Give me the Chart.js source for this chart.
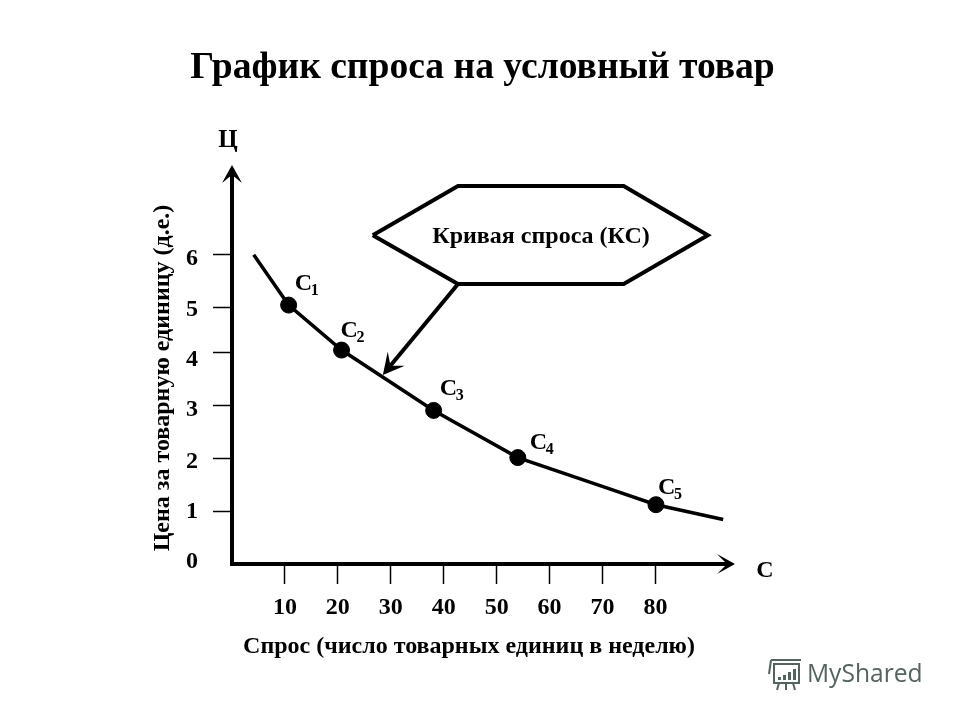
<!DOCTYPE html>
<html lang="ru">
<head>
<meta charset="utf-8">
<style>html,body{margin:0;padding:0;background:#fff}canvas{display:block}</style>
<script src="https://cdn.jsdelivr.net/npm/chart.js@4"></script>
</head>
<body>
<div style="width:960px;height:720px"><canvas id="c" width="960" height="720"></canvas></div>
<script>
const titleText = 'График спроса на условный товар';
const xTitleText = 'Спрос (число товарных единиц в неделю)';
const yTitleText = 'Цена за товарную единицу (д.е.)';
const calloutText = 'Кривая спроса (КС)';

const curveX = [4.1, 10.7, 20.7, 38.1, 54.0, 70.1, 80.1, 92.8];
const curveY = [5.84, 4.89, 4.04, 2.90, 2.01, 1.46, 1.12, 0.84];
const pointX = [10.7, 20.7, 38.1, 54.0, 80.1];
const pointY = [4.89, 4.04, 2.90, 2.01, 1.12];
const pointNames = ['1', '2', '3', '4', '5'];

const xTickValues = [10, 20, 30, 40, 50, 60, 70, 80];
const yTickValues = [0.07, 1, 2, 3, 4, 4.85, 5.85];
const yTickLabels = ['0', '1', '2', '3', '4', '5', '6'];

const calloutX = [26.6, 42.7, 74.0, 89.9, 74.0, 42.7, 26.6];
const calloutY = [6.21, 7.14, 7.14, 6.21, 5.29, 5.29, 6.21];
const pointerX = [42.7, 29.8];
const pointerY = [5.29, 3.73];
const pointerTipX = 28.5;
const pointerTipY = 3.57;

const serif = '"Liberation Serif", "Times New Roman", serif';
const toXY = (xs, ys) => xs.map((x, i) => ({x, y: ys[i]}));

const annotations = {
  id: 'annotations',
  afterDraw(chart) {
    const {ctx, scales: {x, y}, chartArea: a} = chart;
    const text = (s, px, py, size, opts = {}) => {
      ctx.font = `bold ${size}px ${serif}`;
      ctx.textAlign = opts.align || 'center';
      ctx.textBaseline = opts.base || 'middle';
      ctx.fillStyle = opts.color || '#000';
      ctx.fillText(s, px, py);
    };
    ctx.save();
    ctx.fillStyle = '#000';
    const poly = pts => {
      ctx.beginPath();
      pts.forEach((p, i) => i ? ctx.lineTo(p[0], p[1]) : ctx.moveTo(p[0], p[1]));
      ctx.closePath();
      ctx.fill();
    };
    // axis arrow heads at the ends of the axes
    const yTip = a.top - 6, xTip = a.right + 6;
    poly([[a.left, yTip], [a.left + 10, yTip + 18], [a.left, yTip + 10], [a.left - 10, yTip + 18]]);
    poly([[xTip, a.bottom], [xTip - 18, a.bottom + 10], [xTip - 8, a.bottom], [xTip - 18, a.bottom - 10]]);
    // pointer arrow head
    const tx = x.getPixelForValue(pointerTipX), ty = y.getPixelForValue(pointerTipY);
    const fx = x.getPixelForValue(pointerX[0]), fy = y.getPixelForValue(pointerY[0]);
    const ang = Math.atan2(ty - fy, tx - fx);
    const rot = (l, w) => [tx - l * Math.cos(ang) + w * Math.sin(ang), ty - l * Math.sin(ang) - w * Math.cos(ang)];
    poly([[tx, ty], rot(21, 11), rot(12, 0), rot(21, -11)]);

    text('Ц', 228, 141, 25);
    text('С', 765, 571, 24);
    text(calloutText, 541, 237, 24);
    text(xTitleText, 469, 647, 24);
    ctx.save();
    ctx.translate(163, 378);
    ctx.rotate(-Math.PI / 2);
    text(yTitleText, 0, 0, 24);
    ctx.restore();

    const labelDX = [6, -1, 6, 12, 2];
    const labelDY = [-15, -13, -15, -9, -11];
    pointX.forEach((v, i) => {
      const px = x.getPixelForValue(v), py = y.getPixelForValue(pointY[i]);
      const cx = px + labelDX[i], cy = py + labelDY[i];
      text('С', cx, cy, 24, {align: 'left', base: 'alphabetic'});
      text(pointNames[i], cx + 16, cy + 5, 16, {align: 'left', base: 'alphabetic'});
    });

    // source watermark
    const mark = '#55635f';
    ctx.font = '24.6px "Open Sans", sans-serif';
    ctx.textAlign = 'left';
    ctx.textBaseline = 'alphabetic';
    ctx.fillStyle = mark;
    ctx.fillText('MyShared', 807, 682);
    ctx.strokeStyle = mark;
    ctx.lineWidth = 2;
    ctx.strokeRect(774, 664, 25, 19);
    ctx.beginPath();
    ctx.moveTo(771, 660); ctx.lineTo(801, 660);
    ctx.moveTo(771, 660); ctx.lineTo(769, 674);
    ctx.moveTo(779, 683); ctx.lineTo(777, 690);
    ctx.moveTo(786, 683); ctx.lineTo(786, 690);
    ctx.moveTo(793, 683); ctx.lineTo(795, 690);
    ctx.stroke();
    ctx.fillStyle = mark;
    ctx.fillRect(778, 677, 3, 3);
    ctx.fillRect(783, 675, 3, 5);
    ctx.fillRect(788, 672, 3, 8);
    ctx.fillRect(793, 669, 3, 11);
    ctx.restore();
  }
};

// The reference's y labels sit a few pixels below their tick marks.
const yLabelDrop = [2, 1, 4, 5, 8, 3, 5];
const dropYLabels = s => {
  if (s._dropWrapped) return;
  s._dropWrapped = true;
  const base = s._computeLabelItems;
  s._computeLabelItems = function (area) {
    return base.call(this, area).map((item, i) => ({
      ...item,
      options: {
        ...item.options,
        translation: [item.options.translation[0], item.options.translation[1] + (yLabelDrop[i] || 0)]
      }
    }));
  };
};

new Chart(document.getElementById('c'), {
  type: 'scatter',
  data: {
    datasets: [
      {label: 'Кривая спроса', data: toXY(curveX, curveY), showLine: true, borderColor: '#000', borderWidth: 3.5, pointRadius: 0, tension: 0, clip: false},
      {label: 'Точки', data: toXY(pointX, pointY), showLine: false, pointRadius: 8, pointHoverRadius: 8, backgroundColor: '#000', borderColor: '#000', clip: false},
      {label: 'Выноска', data: toXY(calloutX, calloutY), showLine: true, borderColor: '#000', borderWidth: 4, pointRadius: 0, tension: 0, fill: false, borderJoinStyle: 'miter', clip: false},
      {label: 'Указатель', data: toXY(pointerX, pointerY), showLine: true, borderColor: '#000', borderWidth: 4, pointRadius: 0, tension: 0, clip: false}
    ]
  },
  options: {
    responsive: false,
    animation: false,
    devicePixelRatio: 1,
    layout: {padding: {left: 5, right: 0, top: 0, bottom: 0}},
    plugins: {
      legend: {display: false},
      tooltip: {enabled: false},
      title: {
        display: true,
        text: titleText,
        color: '#000',
        font: {family: serif, size: 37.6, weight: 'bold', lineHeight: 1.2},
        padding: {top: 46, bottom: 80}
      }
    },
    scales: {
      x: {
        type: 'linear', min: 0, max: 93.9,
        afterBuildTicks: s => { s.ticks = xTickValues.map(value => ({value})); },
        afterFit: s => { s.height = 156; },
        border: {display: true, color: '#000', width: 4},
        grid: {display: true, drawOnChartArea: false, drawTicks: true, tickLength: 20, tickColor: '#000', tickWidth: 1.5},
        ticks: {color: '#000', font: {family: serif, size: 24, weight: 'bold'}, padding: 9, maxRotation: 0, autoSkip: false, callback: v => String(v)}
      },
      y: {
        type: 'linear', min: 0, max: 7.42,
        afterBuildTicks: s => { s.ticks = yTickValues.map(value => ({value})); },
        afterFit: s => { s.width = 227; dropYLabels(s); },
        border: {display: true, color: '#000', width: 4},
        grid: {display: true, drawOnChartArea: false, drawTicks: true, tickLength: 19, tickWidth: 1.5,
               tickColor: c => c.index === 0 ? 'rgba(0,0,0,0)' : '#000'},
        ticks: {color: '#000', font: {family: serif, size: 24, weight: 'bold'}, padding: 15, autoSkip: false,
                callback: (v, i) => yTickLabels[i]}
      },
      spacer: {
        type: 'linear', position: 'right', min: 0, max: 1,
        afterFit: s => { s.width = 231; },
        display: true,
        border: {display: false},
        grid: {display: false},
        ticks: {display: false}
      }
    }
  },
  plugins: [annotations]
});
</script>
</body>
</html>
